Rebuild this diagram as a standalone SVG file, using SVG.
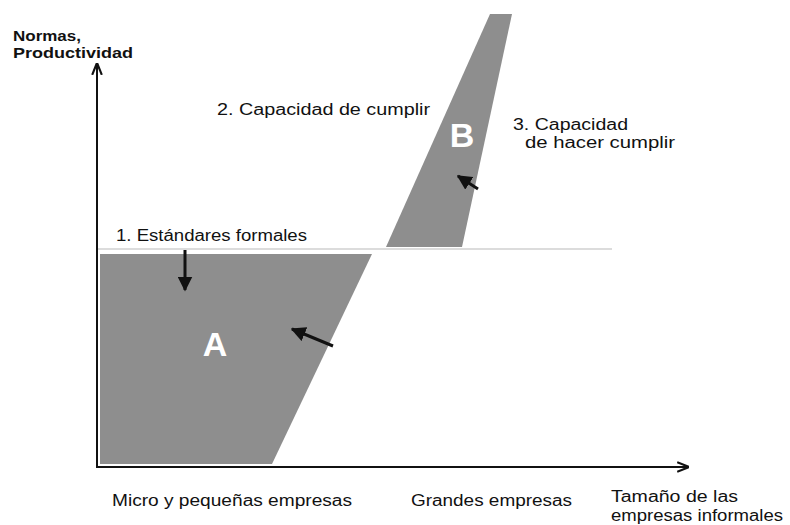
<svg xmlns="http://www.w3.org/2000/svg" width="790" height="525" viewBox="0 0 790 525">
<defs>
<style>
text{font-family:"Liberation Sans",Arial,sans-serif;font-size:16px;fill:#111}
.b{font-weight:bold;font-size:15px}
.big{font-family:"Liberation Sans",Arial,sans-serif;font-weight:bold;font-size:34px;fill:#fff}
.area{fill:#8e8e8e}
.ax{stroke:#111;stroke-width:2;fill:none}
.ar{stroke:#111;stroke-width:3;fill:none}
</style>
<marker id="ah" viewBox="0 0 10 10" refX="9" refY="5" markerWidth="5" markerHeight="5" orient="auto"><path d="M0,0 L10,5 L0,10 Z" fill="#111"/></marker>
<marker id="ax" viewBox="0 0 10 10" refX="9" refY="5" markerWidth="6" markerHeight="6" orient="auto"><path d="M0,1 L10,5 L0,9" fill="none" stroke="#111" stroke-width="1.8"/></marker>
</defs>
<rect width="790" height="525" fill="#fff"/>
<line x1="97" y1="249" x2="612" y2="249" stroke="#d0d0d0" stroke-width="1.5"/>
<g id="areaA"><polygon class="area" points="100,254 372,254 272,464 100,464"/><text class="big" x="215" y="356" text-anchor="middle">A</text></g>
<g id="areaB"><polygon class="area" points="386,247 490,14 512,14 462,247"/><text class="big" x="462" y="147" text-anchor="middle">B</text></g>
<g id="axes">
<line class="ax" x1="97" y1="467" x2="97" y2="64" marker-end="url(#ax)"/>
<line class="ax" x1="96" y1="467" x2="688" y2="467" marker-end="url(#ax)"/>
</g>
<g id="connectors">
<line class="ar" x1="185" y1="250" x2="185" y2="290" marker-end="url(#ah)"/>
<line class="ar" x1="333" y1="346" x2="292" y2="329" marker-end="url(#ah)"/>
<line class="ar" x1="478" y1="189" x2="458" y2="176" marker-end="url(#ah)"/>
</g>
<g id="labels">
<text class="b" x="13" y="41" textLength="68" lengthAdjust="spacingAndGlyphs">Normas,</text>
<text class="b" x="13" y="58" textLength="120" lengthAdjust="spacingAndGlyphs">Productividad</text>
<text x="217" y="115" textLength="213" lengthAdjust="spacingAndGlyphs">2. Capacidad de cumplir</text>
<text x="513" y="130" textLength="115" lengthAdjust="spacingAndGlyphs">3. Capacidad</text>
<text x="525" y="148" textLength="150" lengthAdjust="spacingAndGlyphs">de hacer cumplir</text>
<text x="116" y="241" textLength="191" lengthAdjust="spacingAndGlyphs">1. Estándares formales</text>
<text x="112" y="506" textLength="240" lengthAdjust="spacingAndGlyphs">Micro y pequeñas empresas</text>
<text x="411" y="506" textLength="161" lengthAdjust="spacingAndGlyphs">Grandes empresas</text>
<text x="611" y="502" textLength="127" lengthAdjust="spacingAndGlyphs">Tamaño de las</text>
<text x="611" y="521" textLength="172" lengthAdjust="spacingAndGlyphs">empresas informales</text>
</g>
</svg>
